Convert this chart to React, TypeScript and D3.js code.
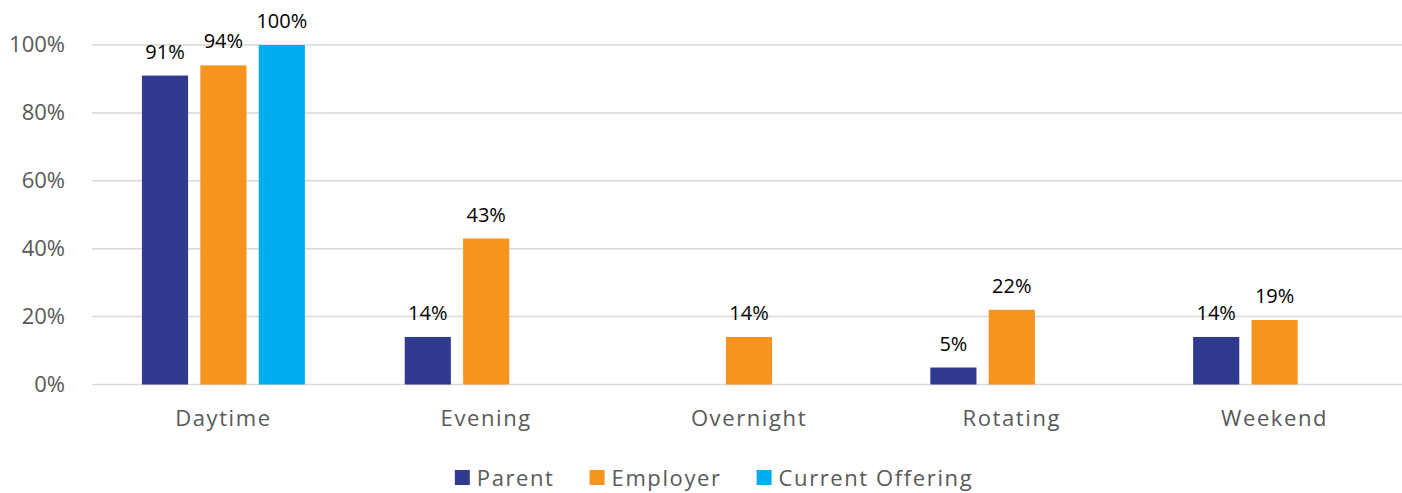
import React, { useRef, useEffect } from "react";
import * as d3 from "d3";

const categories = ["Daytime", "Evening", "Overnight", "Rotating", "Weekend"];
const seriesNames = ["Parent", "Employer", "Current Offering"];
const parentValues = [91, 14, null, 5, 14];
const employerValues = [94, 43, 14, 22, 19];
const currentValues = [100, null, null, null, null];
const yTicks = [0, 20, 40, 60, 80, 100];
const colors = ["#303a8e", "#f7941d", "#00aeef"];

const W = 1402;
const H = 493;
const axisFont = "'Open Sans', sans-serif";

function App() {
  const svgRef = useRef<SVGSVGElement>(null);

  useEffect(() => {
    document.body.style.margin = "0";
    const svg = d3.select(svgRef.current);
    svg.selectAll("*").remove();

    const x0 = d3.scaleBand().domain(categories).range([92, 1406]).paddingInner(0.38).paddingOuter(0.19);
    const x1 = d3.scaleBand().domain(seriesNames).range([0, x0.bandwidth()]).paddingInner(0.21);
    const y = d3.scaleLinear().domain([0, 100]).range([384.5, 45]);

    // gridlines
    svg.append("g")
      .selectAll("line")
      .data(yTicks)
      .join("line")
      .attr("x1", 92)
      .attr("x2", W)
      .attr("y1", (d) => y(d))
      .attr("y2", (d) => y(d))
      .attr("stroke", "#d9d9d9")
      .attr("stroke-width", 1.5);

    // y labels
    svg.append("g")
      .selectAll("text")
      .data(yTicks)
      .join("text")
      .attr("x", 65)
      .attr("y", (d) => y(d) + 7)
      .attr("text-anchor", "end")
      .attr("font-family", axisFont)
      .attr("font-size", 22)
      .attr("fill", "#595959")
      .text((d) => d + "%");

    const allSeries = [parentValues, employerValues, currentValues];
    const cells: { cat: string; s: string; v: number; c: string }[] = [];
    allSeries.forEach((vals, si) => {
      vals.forEach((v, ci) => {
        if (v != null) cells.push({ cat: categories[ci], s: seriesNames[si], v, c: colors[si] });
      });
    });

    const bars = svg.append("g");
    bars.selectAll("rect")
      .data(cells)
      .join("rect")
      .attr("x", (d) => x0(d.cat)! + x1(d.s)!)
      .attr("y", (d) => y(d.v))
      .attr("width", x1.bandwidth())
      .attr("height", (d) => y(0) - y(d.v))
      .attr("fill", (d) => d.c);

    bars.selectAll("text")
      .data(cells)
      .join("text")
      .attr("x", (d) => x0(d.cat)! + x1(d.s)! + x1.bandwidth() / 2)
      .attr("y", (d) => y(d.v) - 17)
      .attr("text-anchor", "middle")
      .attr("font-family", axisFont)
      .attr("font-size", 20)
      .attr("fill", "#000")
      .text((d) => d.v + "%");

    // category labels
    svg.append("g")
      .selectAll("text")
      .data(categories)
      .join("text")
      .attr("x", (d) => x0(d)! + x0.bandwidth() / 2)
      .attr("y", 426)
      .attr("text-anchor", "middle")
      .attr("font-family", axisFont)
      .attr("font-size", 22)
      .attr("letter-spacing", 1.6)
      .attr("fill", "#595959")
      .text((d) => d);

    // legend
    const legend = svg.append("g");
    const items = legend.selectAll("g")
      .data(seriesNames)
      .join("g");
    items.append("rect")
      .attr("width", 15)
      .attr("height", 15)
      .attr("y", 470)
      .attr("fill", (_, i) => colors[i]);
    const texts = items.append("text")
      .attr("x", 22)
      .attr("y", 486)
      .attr("font-family", axisFont)
      .attr("font-size", 22)
      .attr("letter-spacing", 1.6)
      .attr("fill", "#595959")
      .text((d) => d);
    let offset = 0;
    const widths: number[] = [];
    texts.each(function () {
      widths.push((this as SVGTextElement).getComputedTextLength());
    });
    const total = widths.reduce((a, w) => a + 22 + w, 0) + 35 * (widths.length - 1);
    const start = 714 - total / 2;
    items.attr("transform", (_, i) => {
      const tx = start + offset;
      offset += 22 + widths[i] + 35;
      return `translate(${tx},0)`;
    });
  }, []);

  return <svg ref={svgRef} width={W} height={H} style={{ display: "block" }} />;
}

export default App;
